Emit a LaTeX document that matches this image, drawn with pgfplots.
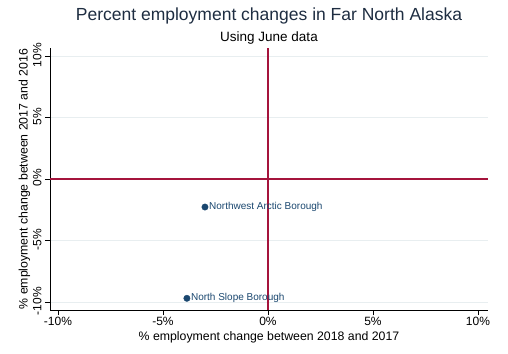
\documentclass[border=0pt]{standalone}
\usepackage{pgfplots}
\pgfplotsset{compat=1.18}
\usepackage{fontspec}
\setmainfont{Liberation Sans}
\definecolor{cranberry}{RGB}{165,20,60}
\definecolor{stnavy}{RGB}{26,71,111}
\definecolor{titlecol}{RGB}{30,45,65}
\definecolor{gridcol}{RGB}{232,238,240}
\begin{document}
\begin{tikzpicture}
\begin{axis}[
  scale only axis,
  width=438pt, height=262pt,
  xmin=-10.38, xmax=10.48,
  ymin=-10.65, ymax=10.65,
  axis x line*=bottom, axis y line*=left,
  axis line style={-, black, line width=0.8pt},
  tick align=outside,
  major tick length=5pt,
  tick style={black, line width=0.6pt},
  xtick={-10,-5,0,5,10},
  xticklabels={-10\%,-5\%,0\%,5\%,10\%},
  ytick={-10,-5,0,5,10},
  yticklabels={-10\%,-5\%,0\%,5\%,10\%},
  ticklabel style={font=\fontsize{12}{14}\selectfont, black},
  xticklabel style={yshift=1pt},
  yticklabel style={rotate=90, anchor=south, xshift=1pt},
  ymajorgrids,
  major grid style={gridcol, line width=0.8pt},
  xlabel={\% employment change between 2018 and 2017},
  ylabel={\% employment change between 2017 and 2016},
  label style={font=\fontsize{12.3}{14}\selectfont, black},
  xlabel style={yshift=1pt},
  ylabel style={yshift=-4pt},
  clip=false,
]
\addplot[cranberry, line width=1.2pt] coordinates {(0,-10.65) (0,10.65)};
\addplot[cranberry, line width=1.2pt] coordinates {(-10.38,0) (10.48,0)};
\addplot[only marks, mark=*, mark size=3.2pt, stnavy,
  nodes near coords, point meta=explicit symbolic,
  nodes near coords style={anchor=west, inner sep=1pt, xshift=3pt, font=\fontsize{10}{12}\selectfont, text=stnavy}]
  table[col sep=comma, row sep=\\, meta=label] {
x,y,label\\
-3.0,-2.28,Northwest Arctic Borough\\
-3.86,-9.7,North Slope Borough\\
};
\coordinate (ll) at (rel axis cs:0,0);
\coordinate (ur) at (rel axis cs:1,1);
\coordinate (tc) at (rel axis cs:0.5,1);
\end{axis}
\node[anchor=base, font=\fontsize{17.5}{20}\selectfont, text=titlecol] at ([yshift=27pt]tc) {Percent employment changes in Far North Alaska};
\node[anchor=base, font=\fontsize{13.5}{16}\selectfont, text=black] at ([yshift=6pt]tc) {Using June data};
\pgfresetboundingbox
\path ([xshift=-50pt,yshift=-43pt]ll) rectangle ([xshift=20pt,yshift=48pt]ur);
\end{tikzpicture}
\end{document}
